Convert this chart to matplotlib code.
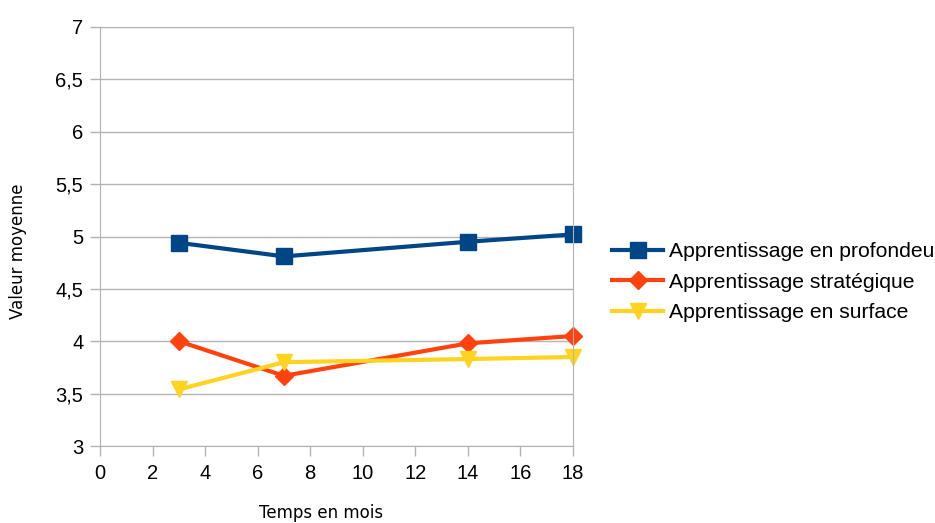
import matplotlib
matplotlib.use("Agg")
from matplotlib import pyplot as plt

plt.rcParams['font.family'] = ['Liberation Sans', 'DejaVu Sans']

mois = [3, 7, 14, 18]
profondeur = [4.94, 4.81, 4.95, 5.02]
strategique = [4.00, 3.67, 3.98, 4.05]
surface = [3.54, 3.80, 3.83, 3.85]

W, H = 935, 523
fig = plt.figure(figsize=(W / 100, H / 100), dpi=100)
ax = fig.add_axes([100/W, 1 - 446/H, 473/W, 419/H])

ax.plot(mois, profondeur, color='#004586', lw=3, marker='s', ms=11,
        label='Apprentissage en profondeur', clip_on=False)
ax.plot(mois, strategique, color='#ff420e', lw=3, marker='D', ms=9,
        label='Apprentissage stratégique', clip_on=False)
ax.plot(mois, surface, color='#ffd320', lw=3, marker='v', ms=12,
        label='Apprentissage en surface', clip_on=False)

ax.set_xlim(0, 18)
ax.set_ylim(3, 7)
ax.set_xticks(range(0, 19, 2))
yt = [3 + 0.5 * i for i in range(9)]
ax.set_yticks(yt)
ax.set_yticklabels([('%g' % v).replace('.', ',') for v in yt])
ax.yaxis.grid(True, color='#b3b3b3', lw=1)
ax.set_axisbelow(True)
for s in ax.spines.values():
    s.set_color('#b3b3b3')
ax.tick_params(colors='#b3b3b3', labelcolor='black', labelsize=14.5, length=7, width=1)
ax.tick_params(axis='x', pad=6)
ax.tick_params(axis='y', pad=5)

# axis titles placed like the original (slightly off-centre)
fig.text(321/W, 1 - 513/H, 'Temps en mois', fontsize=12, family='DejaVu Sans',
         ha='center', va='center')
fig.text(18/W, 1 - 251/H, 'Valeur moyenne', fontsize=12, family='DejaVu Sans',
         ha='center', va='center', rotation=90)

fig.legend(loc='center left', bbox_to_anchor=(604/W, 1 - 282/H), frameon=False,
           fontsize=15.2, handlelength=2.4, handletextpad=0.3, labelspacing=0.55,
           borderaxespad=0)

fig.savefig('out.png', dpi=100)
